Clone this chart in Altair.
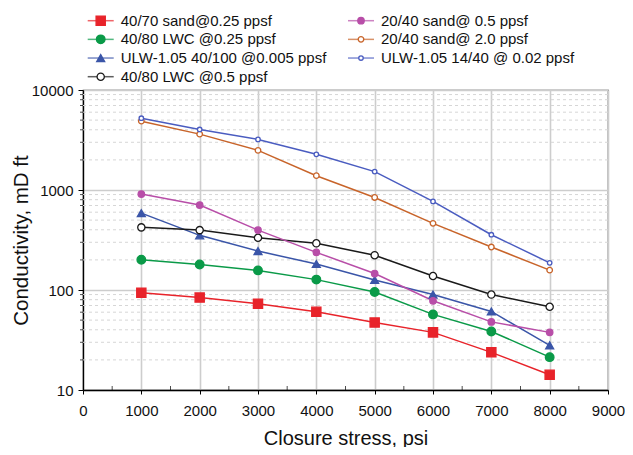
import altair as alt
import pandas as pd

# ---- data ----
stress = [1000, 2000, 3000, 4000, 5000, 6000, 7000, 8000]

series_names = [
    "40/70 sand@0.25 ppsf",
    "40/80 LWC @0.25 ppsf",
    "ULW-1.05 40/100 @0.005 ppsf",
    "40/80 LWC @0.5 ppsf",
    "20/40 sand@ 0.5 ppsf",
    "20/40 sand@ 2.0 ppsf",
    "ULW-1.05 14/40 @ 0.02 ppsf",
]
sand_4070_025 = [94, 84, 73, 60.5, 47.3, 37.7, 23.8, 14.2]
lwc_4080_025 = [201, 180, 157, 127, 95.5, 57, 38.5, 21.3]
ulw_40100_0005 = [587, 352, 245, 182, 126, 90, 61, 28]
lwc_4080_05 = [423, 397, 333, 293, 223, 138, 90, 68]
sand_2040_05 = [910, 707, 397, 238, 146, 78, 48, 37.7]
sand_2040_20 = [4880, 3620, 2490, 1390, 842, 464, 269, 158]
ulw_1440_002 = [5220, 4030, 3205, 2275, 1527, 769, 357, 187]
all_values = [sand_4070_025, lwc_4080_025, ulw_40100_0005, lwc_4080_05,
              sand_2040_05, sand_2040_20, ulw_1440_002]

# legend placement (column, row) for each series
legend_col = [0, 0, 0, 0, 1, 1, 1]
legend_row = [0, 1, 2, 3, 0, 1, 2]

x_ticks = [0, 1000, 2000, 3000, 4000, 5000, 6000, 7000, 8000, 9000]
x_minor = [500, 1500, 2500, 3500, 4500, 5500, 6500, 7500, 8500]
y_ticks = [10, 100, 1000, 10000]
y_minor = [20, 30, 40, 50, 60, 70, 80, 90,
           200, 300, 400, 500, 600, 700, 800, 900,
           2000, 3000, 4000, 5000, 6000, 7000, 8000, 9000]

# ---- styles ----
colors = ["#e8232a", "#0a9a48", "#3a55a8", "#1a1a1a", "#b84ea8", "#c8642a", "#4a5cc0"]
fills = ["#e8232a", "#0a9a48", "#3a55a8", "#ffffff", "#b84ea8", "#ffffff", "#ffffff"]
shapes = ["square", "circle", "triangle-up", "circle", "circle", "circle", "circle"]
sizes = [85, 20, 160, 100, 100, 100, 100]

rows = []
for name, vals in zip(series_names, all_values):
    for s, v in zip(stress, vals):
        rows.append({"series": name, "stress": s, "cond": v})
df = pd.DataFrame(rows)

leg_df = pd.DataFrame({"series": series_names, "col": legend_col, "row": legend_row})
minor_df = pd.DataFrame({"v": y_minor})
xminor_df = pd.DataFrame({"s": x_minor})

FONT = "Liberation Sans"

color_scale = alt.Scale(domain=series_names, range=colors)
fill_scale = alt.Scale(domain=series_names, range=fills)
shape_scale = alt.Scale(domain=series_names, range=shapes)
size_scale = alt.Scale(domain=series_names, range=sizes)

xscale = alt.Scale(domain=[0, 9000], nice=False, zero=False)
yscale = alt.Scale(type="log", domain=[10, 10000], nice=False)

x_axis = alt.Axis(values=x_ticks, format="d", title="Closure stress, psi",
                  labelFontSize=15, titleFontSize=20, titleFontWeight="normal",
                  tickSize=4, labelPadding=9, titlePadding=10,
                  domainColor="#000", domainWidth=1.3, tickColor="#000",
                  gridColor="#cdcdcd", gridWidth=1.6, labelColor="#111",
                  titleColor="#111", labelFlush=False)
y_axis = alt.Axis(values=y_ticks, format="d", title="Conductivity, mD ft",
                  labelFontSize=15, titleFontSize=20.5, titleFontWeight="normal",
                  tickSize=5, labelPadding=5, titlePadding=0,
                  domainColor="#000", domainWidth=1.3, tickColor="#000",
                  gridColor="#cdcdcd", gridWidth=1.6, labelColor="#111",
                  titleColor="#111")

minor_grid = alt.Chart(minor_df).mark_rule(
    color="#d6d6d6", strokeDash=[3, 3], strokeWidth=1
).encode(y=alt.Y("v:Q", scale=yscale, axis=y_axis))

y_minor_ticks = alt.Chart(minor_df).mark_tick(
    orient="horizontal", size=3, thickness=1, color="#000", xOffset=-1.5
).encode(x=alt.datum(0, type="quantitative", scale=xscale), y=alt.Y("v:Q", scale=yscale))

x_minor_ticks = alt.Chart(xminor_df).mark_tick(
    orient="vertical", size=4, thickness=1, color="#000", yOffset=-2
).encode(x=alt.X("s:Q", scale=xscale, axis=x_axis), y=alt.datum(10, type="quantitative", scale=yscale))

lines = alt.Chart(df).mark_line(strokeWidth=1.5).encode(
    x=alt.X("stress:Q", scale=xscale, axis=x_axis),
    y=alt.Y("cond:Q", scale=yscale, axis=y_axis),
    color=alt.Color("series:N", scale=color_scale, legend=None),
    detail="series:N",
)

points = alt.Chart(df).mark_point(filled=True, opacity=1, strokeWidth=1.3).encode(
    x=alt.X("stress:Q", scale=xscale),
    y=alt.Y("cond:Q", scale=yscale),
    shape=alt.Shape("series:N", scale=shape_scale, legend=None),
    fill=alt.Fill("series:N", scale=fill_scale, legend=None),
    stroke=alt.Stroke("series:N", scale=color_scale, legend=None),
    size=alt.Size("series:N", scale=size_scale, legend=None),
)

main = alt.layer(minor_grid, x_minor_ticks, y_minor_ticks, lines, points)

# ---- custom legend above the plot ----
lx = alt.Scale(domain=[0, 1], range=[17.7, 278])
ly = alt.Scale(domain=[0, 3], range=[-69.3, -13.3])

leg_line = alt.Chart(leg_df).mark_tick(orient="horizontal", size=26, thickness=1.5).encode(
    x=alt.X("col:Q", scale=lx, axis=None),
    y=alt.Y("row:Q", scale=ly, axis=None),
    color=alt.Color("series:N", scale=color_scale, legend=None),
)
leg_pts = alt.Chart(leg_df).mark_point(filled=True, opacity=1, strokeWidth=1.3).encode(
    x=alt.X("col:Q", scale=lx, axis=None),
    y=alt.Y("row:Q", scale=ly, axis=None),
    shape=alt.Shape("series:N", scale=shape_scale, legend=None),
    fill=alt.Fill("series:N", scale=fill_scale, legend=None),
    stroke=alt.Stroke("series:N", scale=color_scale, legend=None),
    size=alt.Size("series:N", scale=size_scale, legend=None),
)
leg_text = alt.Chart(leg_df).mark_text(
    align="left", baseline="middle", dx=20, fontSize=15, font=FONT, color="#111"
).encode(
    x=alt.X("col:Q", scale=lx, axis=None),
    y=alt.Y("row:Q", scale=ly, axis=None),
    text="series:N",
)
legend = alt.layer(leg_line, leg_pts, leg_text)

chart = alt.layer(main, legend).resolve_scale(x="independent", y="independent").properties(
    width=525, height=300,
    autosize=alt.AutoSizeParams(type="none"),
    padding={"left": 75, "top": 82, "right": 17, "bottom": 57},
).configure(font=FONT).configure_view(stroke="#333", strokeWidth=1.2)

chart.save("out.html", embed_options={"renderer": "svg", "actions": False})
